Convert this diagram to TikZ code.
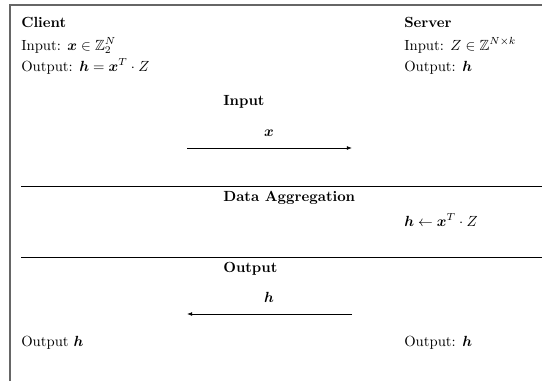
\documentclass[tikz,border=0pt]{standalone}
\usepackage{amsmath,amssymb,bm}
\usetikzlibrary{arrows.meta}
\begin{document}
\begin{tikzpicture}[x=0.68pt,y=-0.68pt,
  txt/.style={anchor=base west,inner sep=0pt,font=\normalsize},
  hdr/.style={anchor=base west,inner sep=0pt,font=\bfseries},
  lbl/.style={anchor=base,inner sep=0pt},
  sep/.style={line width=0.5pt,black},
  frame/.style={line width=0.7pt,black!60},
  msg/.style={line width=0.5pt,-{Latex[length=3.5pt,width=2.6pt]}}]
\useasboundingbox (0,0) rectangle (542,381);
% frame
\coordinate (fTL) at (10,5);
\coordinate (fTR) at (542,5);
\coordinate (fBL) at (10,381);
\draw[frame] (fBL) -- (fTL) -- (fTR);
% client column
\node[hdr] (client) at (21,27) {Client};
\node[txt] (cin) at (21,50) {Input: $\bm{x}\in\mathbb{Z}_2^N$};
\node[txt] (cout) at (21,71) {Output: $\bm{h}=\bm{x}^T\cdot Z$};
% server column
\node[hdr] (server) at (404,27) {Server};
\node[txt] (sin) at (404,50) {Input: $Z\in\mathbb{Z}^{N\times k}$};
\node[txt] (sout) at (404,71) {Output: $\bm{h}$};
% input phase
\node[hdr] (inhdr) at (223,105) {Input};
\coordinate (a1s) at (187,148);
\coordinate (a1e) at (352,148);
\draw[msg] (a1s) -- (a1e);
\node[lbl] (xlbl) at (269,136) {$\bm{x}$};
% separator 1
\coordinate (s1l) at (21,186);
\coordinate (s1r) at (542,186);
\draw[sep] (s1l) -- (s1r);
\node[hdr] (agghdr) at (223,201) {Data Aggregation};
\node[txt] (agg) at (404,226) {$\bm{h}\leftarrow\bm{x}^T\cdot Z$};
% separator 2
\coordinate (s2l) at (21,257);
\coordinate (s2r) at (542,257);
\draw[sep] (s2l) -- (s2r);
\node[hdr] (outhdr) at (223,272) {Output};
\coordinate (a2s) at (352,314);
\coordinate (a2e) at (187,314);
\draw[msg] (a2s) -- (a2e);
\node[lbl] (hlbl) at (269,302) {$\bm{h}$};
\node[txt] (cres) at (21,346) {Output $\bm{h}$};
\node[txt] (sres) at (404,346) {Output: $\bm{h}$};
\end{tikzpicture}
\end{document}
